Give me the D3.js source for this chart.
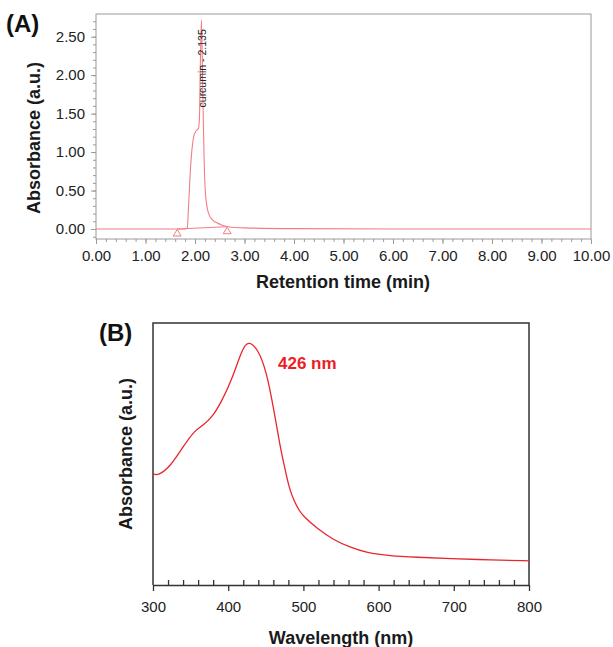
<!DOCTYPE html>
<html>
<head>
<meta charset="utf-8">
<script src="https://cdn.jsdelivr.net/npm/d3@7"></script>
<style>
  body { margin: 0; background: #fff; }
  svg { display: block; font-family: Arial, "Liberation Sans", sans-serif; }
</style>
</head>
<body>
<div id="chart"></div>
<script>
// ---- data: panel A (HPLC chromatogram) ----
var hplcTime = [0, 1.0, 1.6, 1.80, 1.845, 1.87, 1.91, 1.95, 1.985, 2.03, 2.07, 2.09, 2.11, 2.13, 2.145, 2.16, 2.18, 2.21, 2.27, 2.35, 2.44, 2.55, 2.67, 3.0, 4.0, 6.0, 10.0];
var hplcAbs  = [0, 0.0, 0.0, 0.0, 0.02, 0.3, 0.8, 1.1, 1.23, 1.28, 1.31, 1.45, 2.2, 2.72, 2.3, 1.68, 1.03, 0.47, 0.21, 0.12, 0.08, 0.05, 0.03, 0.015, 0.005, 0.0, 0.0];
var peakTime = 2.135;
var peakLabel = "curcumin - 2.135";
var integTime = [1.64, 2.65];
var integAbs = [0.0, 0.03];
var yTicksA = [0, 0.5, 1.0, 1.5, 2.0, 2.5];
var xTicksA = [0, 1, 2, 3, 4, 5, 6, 7, 8, 9, 10];

// ---- data: panel B (UV-vis spectrum) ----
var wavelength = [300, 307, 323, 340, 356, 367, 380, 392, 405, 418, 426, 440, 451, 460, 469, 475, 481, 488, 494, 500, 518, 540, 562, 584, 615, 651, 695, 750, 800];
var absorbance = [0.424, 0.417, 0.452, 0.528, 0.592, 0.610, 0.645, 0.705, 0.785, 0.895, 0.935, 0.900, 0.812, 0.681, 0.528, 0.450, 0.370, 0.318, 0.286, 0.262, 0.216, 0.172, 0.144, 0.123, 0.111, 0.106, 0.100, 0.096, 0.092];
var xTicksB = [300, 400, 500, 600, 700, 800];
var peakNote = "426 nm";

var svg = d3.select("#chart")
  .append("svg")
  .attr("width", 613)
  .attr("height", 647);

// ================= Panel A =================
var xA = d3.scaleLinear().domain([0, 10]).range([96, 591]);
var yA = d3.scaleLinear().domain([-0.13, 2.795]).range([239, 14]);
var gray = "#9a9a9a";
var pink = "#f07f85";

var gA = svg.append("g");

// frame
gA.append("rect")
  .attr("x", xA(0)).attr("y", yA(2.795))
  .attr("width", xA(10) - xA(0)).attr("height", yA(-0.13) - yA(2.795))
  .attr("fill", "none").attr("stroke", gray).attr("stroke-width", 1);

// x axis (bottom), minor then major ticks
gA.append("g")
  .attr("transform", `translate(0, ${yA(-0.13)})`)
  .call(d3.axisBottom(xA).tickValues(d3.range(0, 10.01, 0.2)).tickSize(3).tickFormat(""))
  .call(g => g.select(".domain").remove())
  .call(g => g.selectAll("line").attr("stroke", gray));

gA.append("g")
  .attr("transform", `translate(0, ${yA(-0.13)})`)
  .call(d3.axisBottom(xA).tickValues(xTicksA).tickSize(5).tickPadding(6).tickFormat(d3.format(".2f")))
  .call(g => g.select(".domain").remove())
  .call(g => g.selectAll("line").attr("stroke", gray))
  .call(g => g.selectAll("text").attr("font-size", 15).attr("fill", "#222").attr("font-family", "Arial, 'Liberation Sans', sans-serif"));

// y axis (left)
gA.append("g")
  .attr("transform", `translate(${xA(0)}, 0)`)
  .call(d3.axisLeft(yA).tickValues(d3.range(-0.1, 2.75, 0.1)).tickSize(3).tickFormat(""))
  .call(g => g.select(".domain").remove())
  .call(g => g.selectAll("line").attr("stroke", gray));

gA.append("g")
  .attr("transform", `translate(${xA(0)}, 0)`)
  .call(d3.axisLeft(yA).tickValues(yTicksA).tickSize(5).tickPadding(6).tickFormat(d3.format(".2f")))
  .call(g => g.select(".domain").remove())
  .call(g => g.selectAll("line").attr("stroke", gray))
  .call(g => g.selectAll("text").attr("font-size", 15).attr("fill", "#222").attr("font-family", "Arial, 'Liberation Sans', sans-serif"));

// integration baseline
gA.append("line")
  .attr("x1", xA(integTime[0])).attr("y1", yA(integAbs[0]))
  .attr("x2", xA(integTime[1])).attr("y2", yA(integAbs[1]))
  .attr("stroke", pink).attr("stroke-width", 1);

// chromatogram trace
var hplcData = hplcTime.map((t, i) => ({t: t, v: hplcAbs[i]}));
gA.append("path")
  .datum(hplcData)
  .attr("fill", "none")
  .attr("stroke", pink)
  .attr("stroke-width", 1.1)
  .attr("d", d3.line().x(d => xA(d.t)).y(d => yA(d.v)).curve(d3.curveMonotoneX));

// peak start / end markers
integTime.forEach((t, i) => {
  var cx = xA(t), cy = yA(integAbs[i]);
  gA.append("path")
    .attr("d", `M${cx},${cy + 0.5} L${cx - 4},${cy + 7} L${cx + 4},${cy + 7} Z`)
    .attr("fill", "none").attr("stroke", pink).attr("stroke-width", 1);
});

// peak label
gA.append("text")
  .attr("transform", `translate(${xA(peakTime) + 4.5}, ${yA(1.58)}) rotate(-90)`)
  .attr("font-size", 10.5)
  .attr("fill", "#222")
  .text(peakLabel);

// axis titles
gA.append("text")
  .attr("x", 343).attr("y", 288)
  .attr("text-anchor", "middle")
  .attr("font-size", 18).attr("font-weight", "bold").attr("fill", "#1a1a1a")
  .text("Retention time (min)");

gA.append("text")
  .attr("transform", `translate(40, 138) rotate(-90)`)
  .attr("text-anchor", "middle")
  .attr("font-size", 18).attr("font-weight", "bold").attr("fill", "#1a1a1a")
  .text("Absorbance (a.u.)");

gA.append("text")
  .attr("x", 6).attr("y", 32)
  .attr("font-size", 24).attr("font-weight", "bold").attr("fill", "#111")
  .text("(A)");

// ================= Panel B =================
var xB = d3.scaleLinear().domain([300, 800]).range([153, 529]);
var yB = d3.scaleLinear().domain([0, 1]).range([585, 323]);
var red = "#e8262c";
var dark = "#333";

var gB = svg.append("g");

// left, top, right borders
gB.append("path")
  .attr("d", `M${xB(300)},${yB(0)} V${yB(1)} H${xB(800)} V${yB(0)}`)
  .attr("fill", "none").attr("stroke", dark).attr("stroke-width", 1.5);

// minor ticks (inward)
gB.append("g")
  .attr("transform", `translate(0, ${yB(0)})`)
  .call(d3.axisTop(xB).tickValues(d3.range(320, 800, 20).filter(v => v % 100 !== 0)).tickSize(5).tickFormat(""))
  .call(g => g.select(".domain").remove())
  .call(g => g.selectAll("line").attr("stroke", dark).attr("stroke-width", 1.3));

// major ticks (outward) + axis line
gB.append("g")
  .attr("transform", `translate(0, ${yB(0)})`)
  .call(d3.axisBottom(xB).tickValues(xTicksB).tickSize(6).tickSizeOuter(0).tickPadding(10))
  .call(g => g.select(".domain").attr("stroke", dark).attr("stroke-width", 1.5))
  .call(g => g.selectAll("line").attr("stroke", dark).attr("stroke-width", 1.3))
  .call(g => g.selectAll("text").attr("font-size", 15).attr("fill", "#222").attr("font-family", "Arial, 'Liberation Sans', sans-serif"));

// spectrum
var specData = wavelength.map((w, i) => ({w: w, a: absorbance[i]}));
gB.append("path")
  .datum(specData)
  .attr("fill", "none")
  .attr("stroke", red)
  .attr("stroke-width", 1.3)
  .attr("d", d3.line().x(d => xB(d.w)).y(d => yB(d.a)).curve(d3.curveBasis));

gB.append("text")
  .attr("x", 278).attr("y", 369)
  .attr("font-size", 17).attr("font-weight", "bold").attr("fill", "#ee1c24")
  .text(peakNote);

gB.append("text")
  .attr("x", 341).attr("y", 644)
  .attr("text-anchor", "middle")
  .attr("font-size", 18).attr("font-weight", "bold").attr("fill", "#1a1a1a")
  .text("Wavelength (nm)");

gB.append("text")
  .attr("transform", `translate(132, 454) rotate(-90)`)
  .attr("text-anchor", "middle")
  .attr("font-size", 18).attr("font-weight", "bold").attr("fill", "#1a1a1a")
  .text("Absorbance (a.u.)");

gB.append("text")
  .attr("x", 99).attr("y", 341)
  .attr("font-size", 24).attr("font-weight", "bold").attr("fill", "#111")
  .text("(B)");
</script>
</body>
</html>
